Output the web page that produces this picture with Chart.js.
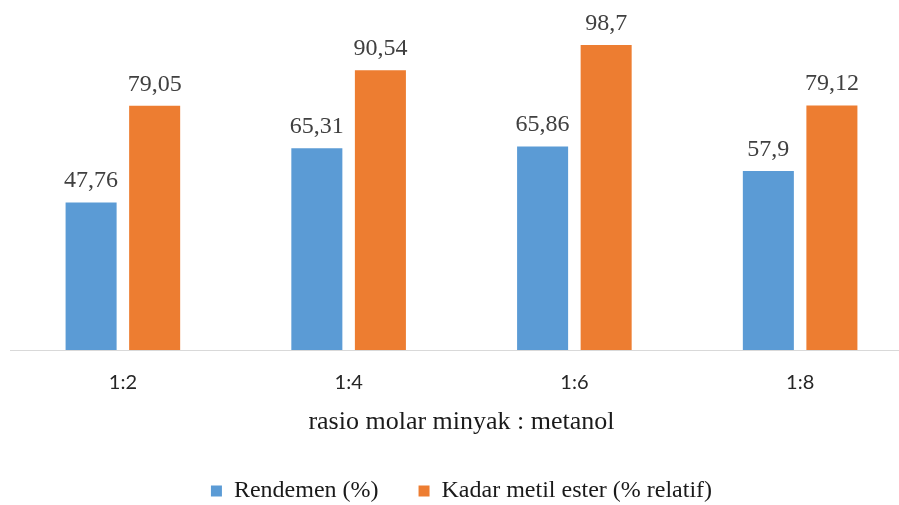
<!DOCTYPE html>
<html>
<head>
<meta charset="utf-8">
<script src="https://cdn.jsdelivr.net/npm/chart.js@4"></script>
<style>
  html, body { margin: 0; padding: 0; overflow: hidden; background: #fff; }
</style>
</head>
<body>
<canvas id="rasio-chart" width="926" height="513"></canvas>
<script>
const categories = ['1:2', '1:4', '1:6', '1:8'];
const rendemen = [47.76, 65.31, 65.86, 57.9];
const kadarMetilEster = [79.05, 90.54, 98.7, 79.12];

// value labels above each bar, with comma decimals
const barLabels = {
    id: 'barLabels',
    afterDatasetsDraw(chart) {
        const ctx = chart.ctx;
        ctx.save();
        ctx.font = 'normal 24px "Liberation Serif", "Times New Roman", serif';
        ctx.fillStyle = '#404040';
        ctx.textAlign = 'center';
        ctx.textBaseline = 'alphabetic';
        chart.data.datasets.forEach((ds, i) => {
            chart.getDatasetMeta(i).data.forEach((bar, j) => {
                ctx.fillText(String(ds.data[j]).replace('.', ','), bar.x, bar.y - 15);
            });
        });
        ctx.restore();
    }
};

const rasioData = {
    labels: categories,
    datasets: [{
        label: 'Rendemen (%)',
        data: rendemen,
        backgroundColor: '#5B9BD5'
    }, {
        label: 'Kadar metil ester (% relatif)',
        data: kadarMetilEster,
        backgroundColor: '#ED7D31'
    }]
};

const rasioOptions = {
    responsive: false,
    animation: false,
    categoryPercentage: 0.563,
    barPercentage: 0.803,
    layout: {
        padding: { top: 10, left: 10, right: 13, bottom: 0 }
    },
    scales: {
        x: {
            grid: { display: false },
            border: { display: true, color: '#D9D9D9', width: 1 },
            ticks: {
                padding: 15,
                color: '#262626',
                font: { family: 'Lato', size: 20, lineHeight: 1 }
            },
            title: {
                display: true,
                text: 'rasio molar minyak : metanol',
                color: '#1a1a1a',
                padding: { top: 1, bottom: 4 },
                font: { family: '"Liberation Serif"', size: 26, lineHeight: 1 }
            }
        },
        y: {
            display: false,
            min: 0,
            max: 110
        }
    },
    plugins: {
        legend: {
            position: 'bottom',
            labels: {
                boxWidth: 11,
                boxHeight: 11,
                padding: 40,
                color: '#1a1a1a',
                font: { family: '"Liberation Serif"', size: 24 }
            }
        },
        tooltip: { enabled: false }
    }
};

const rasioCanvas = document.getElementById('rasio-chart');

let rasioChart = new Chart(rasioCanvas, {
    type: 'bar',
    data: rasioData,
    options: rasioOptions,
    plugins: [barLabels]
});
</script>
</body>
</html>
